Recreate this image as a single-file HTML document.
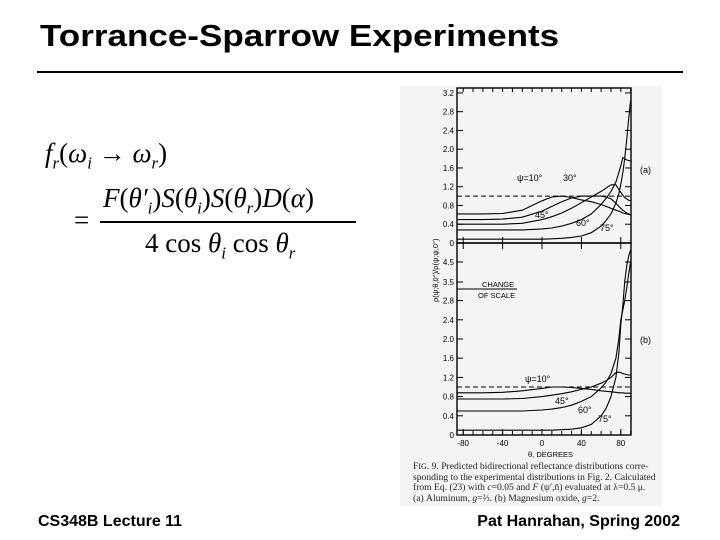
<!DOCTYPE html>
<html><head><meta charset="utf-8"><style>
body{margin:0;width:720px;height:540px;background:#fff;position:relative;overflow:hidden;font-family:"Liberation Sans",sans-serif}
.t{position:absolute;white-space:nowrap}
</style></head><body>
<div class="t" style="left:40px;top:18px;font-size:31px;font-weight:bold;transform:scaleX(1.13);transform-origin:left top">Torrance-Sparrow Experiments</div>
<div style="position:absolute;left:37px;top:71px;width:646px;height:2px;background:#000"></div>

<div style="position:absolute;left:0;top:0;font-family:'Liberation Serif',serif;font-size:27px">
 <div class="t" style="left:45px;top:138px"><i>f<sub style="font-size:17px">r</sub></i>(<i>ω<sub style="font-size:17px">i</sub></i> → <i>ω<sub style="font-size:17px">r</sub></i>)</div>
 <div class="t" style="left:74px;top:205px">=</div>
 <div class="t" style="left:103px;top:183px"><i>F</i>(<i>θ′<sub style="font-size:17px">i</sub></i>)<i>S</i>(<i>θ<sub style="font-size:17px">i</sub></i>)<i>S</i>(<i>θ<sub style="font-size:17px">r</sub></i>)<i>D</i>(<i>α</i>)</div>
 <div style="position:absolute;left:100px;top:221px;width:256px;height:1.5px;background:#000"></div>
 <div class="t" style="left:145px;top:228px">4 cos <i>θ<sub style="font-size:17px">i</sub></i> cos <i>θ<sub style="font-size:17px">r</sub></i></div>
</div>

<svg id="fig" width="720" height="540" style="position:absolute;left:0;top:0" font-family="Liberation Sans, sans-serif">
<rect x="400" y="86" width="262" height="420" fill="#f4f4f4"/>
</svg>
<div class="t" style="left:413px;top:462px;font-family:'Liberation Serif',serif;font-size:9.6px;line-height:10.5px;color:#222">F<span style="font-size:8px">IG</span>. 9. Predicted bidirectional reflectance distributions corre-<br>sponding to the experimental distributions in Fig. 2. Calculated<br>from Eq. (23) with <i>c</i>=0.05 and <i>F</i> (ψ′,n̄) evaluated at λ=0.5 μ.<br>(a) Aluminum, <i>g</i>=⅔. (b) Magnesium oxide, <i>g</i>=2.</div>
<div class="t" style="left:38px;top:513px;font-size:16px;font-weight:bold">CS348B Lecture 11</div>
<div class="t" style="right:40px;top:513px;font-size:16px;font-weight:bold">Pat Hanrahan, Spring 2002</div>
<script>
const xTicks=[-80,-40,0,40,80];
const yTicksA=[0,0.4,0.8,1.2,1.6,2.0,2.4,2.8,3.2];
const yTicksB=[0,0.4,0.8,1.2,1.6,2.0,2.4,2.8];
const yTicksBHigh=[3.5,4.5];
const theta=[-86,-60,-40,-20,0,10,20,30,40,50,60,65,70,75,78,80,82,84,86,88,90];
const aPsi10=[0.62,0.62,0.63,0.7,0.9,0.98,1.0,0.97,0.92,0.88,0.82,0.78,0.74,0.7,0.68,0.66,0.64,0.63,0.62,0.61,0.6];
const aPsi30=[0.5,0.5,0.51,0.55,0.68,0.78,0.88,0.96,1.0,1.0,1.0,0.98,0.94,0.85,0.78,0.74,0.7,0.67,0.64,0.62,0.6];
const aPsi45=[0.4,0.4,0.4,0.42,0.5,0.56,0.64,0.74,0.86,0.98,1.1,1.17,1.24,1.24,1.14,1.08,1.02,0.97,0.94,0.91,0.9];
const aPsi60=[0.28,0.28,0.28,0.28,0.3,0.32,0.36,0.42,0.5,0.62,0.82,0.95,1.1,1.3,1.5,1.65,1.82,1.8,1.77,1.76,1.75];
const aPsi75=[0.08,0.08,0.08,0.08,0.08,0.09,0.1,0.12,0.15,0.22,0.36,0.48,0.62,0.85,1.05,1.25,1.5,1.8,2.2,2.65,3.05];
const bPsi10=[0.88,0.88,0.89,0.92,0.97,1.0,1.0,0.99,0.97,0.95,0.92,0.91,0.9,0.89,0.88,0.88,0.88,0.87,0.87,0.87,0.87];
const bPsi45=[0.75,0.75,0.75,0.76,0.8,0.83,0.86,0.9,0.95,1.0,1.08,1.13,1.2,1.3,1.31,1.3,1.28,1.27,1.26,1.25,1.25];
const bPsi60=[0.5,0.5,0.5,0.5,0.52,0.54,0.57,0.62,0.7,0.8,0.98,1.1,1.28,1.6,2.0,2.4,2.6,2.8,3.2,3.9,4.5];
const bPsi75=[0.1,0.1,0.1,0.1,0.1,0.1,0.11,0.12,0.15,0.22,0.4,0.55,0.8,1.2,1.7,2.3,2.7,3.5,4.3,4.8,5.1];
const NS='http://www.w3.org/2000/svg';
const svg=document.getElementById('fig');
const X0=457,X1=631;
const xs=d=>542+d*0.985;
const yA=v=>243-v*46.9;
const yB=v=>v<=2.8?435-v*48:(v<=3.1?300-(v-2.8)*30:282-(v-3.5)*20);
function mk(tag,at,txt){const e=document.createElementNS(NS,tag);for(const k in at)e.setAttribute(k,at[k]);if(txt!==undefined)e.textContent=txt;svg.appendChild(e);return e;}
function frame(top,bot,name){const r=mk('rect',{x:X0,y:top,width:X1-X0,height:bot-top,fill:'none',stroke:'#000','stroke-width':1.4});

}
frame(88,243,'panel-a-frame');frame(243,435,'panel-b-frame');
function yticks(arr,f,pfx){arr.forEach(v=>{const y=f(v);
const l=mk('line',{x1:X0,x2:X0+6,y1:y,y2:y,stroke:'#000','stroke-width':1});


mk('line',{x1:X1-6,x2:X1,y1:y,y2:y,stroke:'#000','stroke-width':1});
const t=mk('text',{x:X0-3,y:y+3,'font-size':8,'text-anchor':'end'},v===0?'0':v.toFixed(1));

});}
yticks(yTicksA,yA,'y-a');yticks(yTicksB,yB,'y-b');yticks(yTicksBHigh,yB,'y-b-high');
xTicks.forEach(d=>{const x=xs(d);
[[243,237],[243,249],[435,429]].forEach(p=>mk('line',{x1:x,x2:x,y1:p[0],y2:p[1],stroke:'#000','stroke-width':1}));
const t=mk('text',{x:x,y:446,'font-size':8,'text-anchor':'middle'},String(d));

});
for(let d=-80;d<=90;d+=10){const x=xs(d);mk('line',{x1:x,x2:x,y1:88,y2:92,stroke:'#000'});mk('line',{x1:x,x2:x,y1:435,y2:431,stroke:'#000'});}
function path(vals,f,name){let d='';theta.forEach((t,i)=>{d+=(i?'L':'M')+xs(t).toFixed(1)+','+f(vals[i]).toFixed(1);});
const p=mk('path',{d:d,fill:'none',stroke:'#000','stroke-width':1.1});

}
path(aPsi10,yA,'curve-a-psi10');path(aPsi30,yA,'curve-a-psi30');path(aPsi45,yA,'curve-a-psi45');path(aPsi60,yA,'curve-a-psi60');path(aPsi75,yA,'curve-a-psi75');
path(bPsi10,yB,'curve-b-psi10');path(bPsi45,yB,'curve-b-psi45');path(bPsi60,yB,'curve-b-psi60');path(bPsi75,yB,'curve-b-psi75');
mk('line',{x1:X0,x2:X1,y1:yA(1),y2:yA(1),stroke:'#000','stroke-dasharray':'5,3'});
mk('line',{x1:X0,x2:X1,y1:yB(1),y2:yB(1),stroke:'#000','stroke-dasharray':'5,3'});
mk('line',{x1:X0,x2:X0+60,y1:289,y2:289,stroke:'#000'});
[['ψ=10°',517,181],['30°',563,181],['45°',535,218],['60°',576,226],['75°',600,231],['ψ=10°',525,382],['45°',555,404],['60°',578,413],['75°',598,422],['CHANGE',482,287],['OF SCALE',478,298],['(a)',640,173],['(b)',640,343],['θ, DEGREES',528,457]].forEach(a=>{
const t=mk('text',{x:a[1],y:a[2],'font-size':a[0].length>5&&a[0][0]!='ψ'?7.5:9},a[0]);

});
const yl=mk('text',{x:0,y:0,'font-size':7.5,transform:'translate(438,302) rotate(-90)'},'ρ(ψ;θ,0°)/ρ(ψ;ψ,0°)');


</script>
</body></html>
